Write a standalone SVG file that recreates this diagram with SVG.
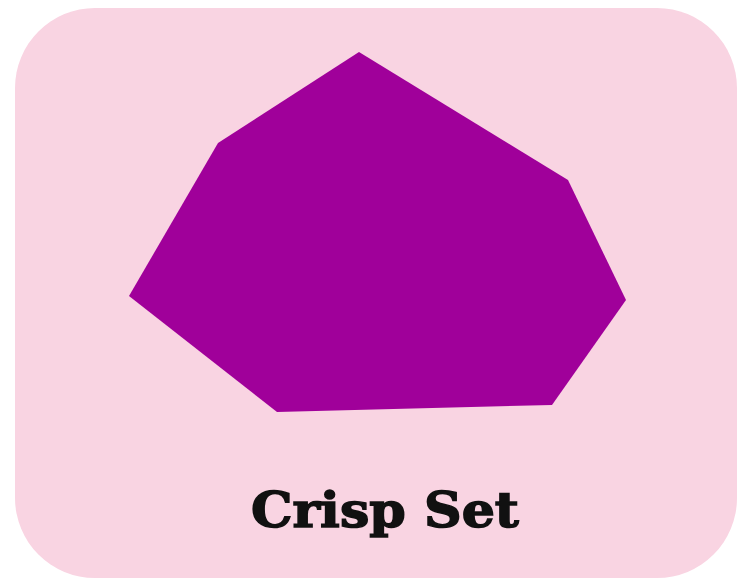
<svg xmlns="http://www.w3.org/2000/svg" width="739" height="582" viewBox="0 0 739 582">
<style>
.card{fill:#f9d4e2}
.shape{fill:#a0009a}
.label{font-family:"DejaVu Serif","Liberation Serif",serif;font-weight:bold;font-size:49px;fill:#111;stroke:#111;stroke-width:1.5}
</style>
<rect width="739" height="582" fill="#ffffff"/>
<g id="card">
<rect class="card" x="15" y="8" width="722" height="570" rx="80" ry="80"/>
</g>
<g id="crisp-set">
<polygon class="shape" points="359,52 218,143 129,296 277,412 552,405 626,300 568,180"/>
</g>
<g id="label">
<text class="label" x="385" y="527" text-anchor="middle" textLength="268" lengthAdjust="spacingAndGlyphs">Crisp Set</text>
</g>
</svg>
